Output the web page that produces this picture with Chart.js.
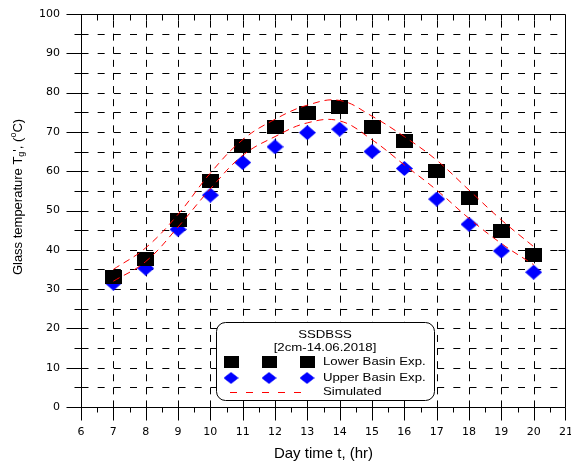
<!DOCTYPE html>
<html>
<head>
<meta charset="utf-8">
<script src="https://cdn.jsdelivr.net/npm/chart.js@4.4.0/dist/chart.umd.min.js"></script>
<style>
  html, body { margin: 0; padding: 0; background: #fff; }
  #wrap { width: 571px; height: 463px; }
</style>
</head>
<body>
<div id="wrap"><canvas id="graficoVidrio"></canvas></div>
<script>
// horas del día
const hours = [7, 8, 9, 10, 11, 12, 13, 14, 15, 16, 17, 18, 19, 20];
// temperatura del vidrio, cuenca inferior (exp.)
const lowerExp = [33.2, 37.7, 47.6, 57.5, 66.4, 71.2, 74.9, 76.4, 71.3, 67.8, 60.1, 53.3, 44.9, 38.8];
// temperatura del vidrio, cuenca superior (exp.)
const upperExp = [31.5, 35.3, 45.2, 53.9, 62.2, 66.2, 69.8, 70.7, 65.0, 60.7, 52.9, 46.5, 39.7, 34.3];
// curvas simuladas
const simLower = [35.0, 40.5, 49.0, 59.5, 68.0, 73.2, 76.8, 78.0, 74.0, 68.8, 62.8, 55.2, 47.6, 40.8];
const simUpper = [32.0, 37.0, 45.8, 55.5, 64.0, 68.8, 72.3, 72.8, 68.0, 61.6, 55.2, 48.0, 41.6, 36.2];
// ticks
const xTicks = [6, 7, 8, 9, 10, 11, 12, 13, 14, 15, 16, 17, 18, 19, 20, 21];
const yTicks = [0, 10, 20, 30, 40, 50, 60, 70, 80, 90, 100];

const legendTitle = ["SSDBSS", "[2cm-14.06.2018]"];
const seriesNames = ["Lower Basin Exp.", "Upper Basin Exp.", "Simulated"];

function makeSquare(w, h) {
  const c = document.createElement('canvas');
  c.width = w; c.height = h;
  const g = c.getContext('2d');
  g.fillStyle = '#000';
  g.fillRect(0, 0, w, h);
  return c;
}
function makeDiamond(w, h) {
  const c = document.createElement('canvas');
  c.width = w; c.height = h;
  const g = c.getContext('2d');
  g.fillStyle = '#0000ff';
  g.beginPath();
  g.moveTo(w / 2, 0); g.lineTo(w, h / 2); g.lineTo(w / 2, h); g.lineTo(0, h / 2);
  g.closePath();
  g.fill();
  return c;
}
const squareImg = makeSquare(17, 14);
const diamondImg = makeDiamond(17, 15);

const pts = arr => hours.map((h, i) => ({ x: h, y: arr[i] }));

// grid dashed + axis frame + ticks
const marco = {
  id: 'marco',
  beforeDatasetsDraw(chart) {
    const { ctx, chartArea: a, scales: { x, y } } = chart;
    const L = Math.round(a.left) + 0.5, R = Math.round(a.right) - 0.5;
    const T = Math.round(a.top) + 0.5, B = Math.round(a.bottom) + 0.5;
    const hx = x.getPixelForValue(7) - x.getPixelForValue(6);
    const vy = (y.getPixelForValue(0) - y.getPixelForValue(10)) / 3;
    ctx.save();
    ctx.strokeStyle = '#000';
    ctx.lineWidth = 1;

    ctx.setLineDash([7, hx / 2 - 7]);
    ctx.lineDashOffset = 0;
    for (let v = 5; v < 100; v += 5) {
      const py = Math.round(y.getPixelForValue(v)) + 0.5;
      ctx.beginPath(); ctx.moveTo(L, py); ctx.lineTo(R, py); ctx.stroke();
    }
    ctx.setLineDash([7, vy - 7]);
    ctx.lineDashOffset = 2 * vy - (y.getPixelForValue(95) - T);
    for (let h = 7; h < 21; h++) {
      const px = Math.round(x.getPixelForValue(h)) + 0.5;
      ctx.beginPath(); ctx.moveTo(px, T); ctx.lineTo(px, B); ctx.stroke();
    }

    ctx.setLineDash([]);
    ctx.beginPath();
    ctx.moveTo(L - 15, T); ctx.lineTo(R, T);
    ctx.moveTo(L - 15, B); ctx.lineTo(R, B);
    ctx.moveTo(L, T); ctx.lineTo(L, B);
    ctx.moveTo(R, T); ctx.lineTo(R, B);
    for (let v = 5; v < 100; v += 5) {
      const py = Math.round(y.getPixelForValue(v)) + 0.5;
      ctx.moveTo(L - (v % 10 === 0 ? 15 : 7), py); ctx.lineTo(L, py);
      if (v % 10 === 0) { ctx.moveTo(R - 7, py); ctx.lineTo(R, py); }
    }
    for (let h = 6.5; h < 21; h += 0.5) {
      const px = Math.round(x.getPixelForValue(h)) + 0.5;
      ctx.moveTo(px, T); ctx.lineTo(px, T + 6);
      if (h % 1 === 0) { ctx.moveTo(px, B - 5); ctx.lineTo(px, B + 13); }
      else { ctx.moveTo(px, B); ctx.lineTo(px, B + 5); }
    }
    [6, 21].forEach(h => {
      const px = Math.round(x.getPixelForValue(h)) + (h === 21 ? -0.5 : 0.5);
      ctx.moveTo(px, B); ctx.lineTo(px, B + 13);
    });
    ctx.stroke();
    ctx.restore();
  },
  afterDraw(chart) {
    const ctx = chart.ctx;
    ctx.save();
    ctx.fillStyle = '#000';

    // y axis title with subscript / superscript
    ctx.translate(18, 197);
    ctx.rotate(-Math.PI / 2);
    ctx.textBaseline = 'middle';
    const big = '13px "Liberation Sans", Arial, sans-serif';
    const small = '9px "Liberation Sans", Arial, sans-serif';
    const parts = [
      ['Glass temperature T', big, 0],
      ['g', small, 4],
      ["', (", big, 0],
      ['o', small, -4],
      ['C)', big, 0]
    ];
    let W = 0;
    parts.forEach(p => { ctx.font = p[1]; W += ctx.measureText(p[0]).width; });
    let cx = -W / 2;
    parts.forEach(p => {
      ctx.font = p[1];
      ctx.fillText(p[0], cx, p[2]);
      cx += ctx.measureText(p[0]).width;
    });
    ctx.restore();

    // legend box
    ctx.save();
    const bx = 216.5, by = 322.5, bw = 218, bh = 78;
    ctx.beginPath();
    ctx.roundRect(bx, by, bw, bh, 9);
    ctx.fillStyle = '#fff';
    ctx.fill();
    ctx.strokeStyle = '#000';
    ctx.lineWidth = 1;
    ctx.stroke();

    ctx.fillStyle = '#000';
    ctx.font = '11px "Liberation Sans", Arial, sans-serif';
    ctx.textBaseline = 'middle';
    const txt = (s, x, y, align) => {
      ctx.save();
      ctx.translate(x, y);
      ctx.scale(1.2, 1);
      ctx.textAlign = align;
      ctx.fillText(s, 0, 0);
      ctx.restore();
    };
    txt(legendTitle[0], 325, 335, 'center');
    txt(legendTitle[1], 325, 348, 'center');
    const mx = [231, 269, 307];
    mx.forEach(m => {
      ctx.drawImage(squareImg, 0, 0, 17, 14, m - 7.5, 362 - 6, 15, 12);
      ctx.drawImage(diamondImg, 0, 0, 17, 15, m - 7.5, 378 - 6, 15, 12);
    });
    txt(seriesNames[0], 323, 362, 'left');
    txt(seriesNames[1], 323, 378, 'left');
    ctx.strokeStyle = '#ff0000';
    ctx.setLineDash([7, 9]);
    ctx.beginPath();
    ctx.moveTo(230, 392.5); ctx.lineTo(303, 392.5);
    ctx.stroke();
    txt(seriesNames[2], 323, 392, 'left');
    ctx.restore();
  }
};

new Chart(document.getElementById('graficoVidrio'), {
  type: 'scatter',
  data: {
    datasets: [
      {
        label: 'Simulated',
        data: pts(simLower),
        showLine: true,
        borderColor: '#ff0000',
        borderWidth: 1,
        borderDash: [7, 5],
        pointRadius: 0,
        tension: 0.4
      },
      {
        label: 'Simulated 2',
        data: pts(simUpper),
        showLine: true,
        borderColor: '#ff0000',
        borderWidth: 1,
        borderDash: [7, 5],
        pointRadius: 0,
        tension: 0.4
      },
      {
        label: seriesNames[0],
        data: pts(lowerExp),
        pointStyle: squareImg,
        showLine: false
      },
      {
        label: seriesNames[1],
        data: pts(upperExp),
        pointStyle: diamondImg,
        showLine: false
      }
    ]
  },
  options: {
    responsive: true,
    maintainAspectRatio: false,
    animation: false,
    devicePixelRatio: 1,
    layout: { padding: { top: 14, right: 5, left: 0, bottom: 0 } },
    plugins: {
      legend: { display: false },
      tooltip: { enabled: false }
    },
    scales: {
      x: {
        type: 'linear',
        min: 6,
        max: 21,
        afterBuildTicks: s => { s.ticks = xTicks.map(v => ({ value: v })); },
        afterFit: s => { s.height = 56; s.paddingLeft = 0; s.paddingRight = 0; },
        grid: { display: false, drawTicks: false },
        border: { display: false },
        ticks: {
          color: '#000',
          padding: 19,
          maxRotation: 0,
          font: { family: '"DejaVu Sans"', size: 11 }
        },
        title: {
          display: true,
          text: 'Day time t, (hr)',
          color: '#000',
          padding: 0,
          font: { family: '"Liberation Sans", Arial', size: 15 }
        }
      },
      y: {
        min: 0,
        max: 100,
        afterBuildTicks: s => { s.ticks = yTicks.map(v => ({ value: v })); },
        afterFit: s => { s.width = 81; s.paddingTop = 0; s.paddingBottom = 0; },
        grid: { display: false, drawTicks: false },
        border: { display: false },
        ticks: {
          color: '#000',
          padding: 21,
          font: { family: '"DejaVu Sans"', size: 11 }
        }
      }
    }
  },
  plugins: [marco]
});
</script>
</body>
</html>
